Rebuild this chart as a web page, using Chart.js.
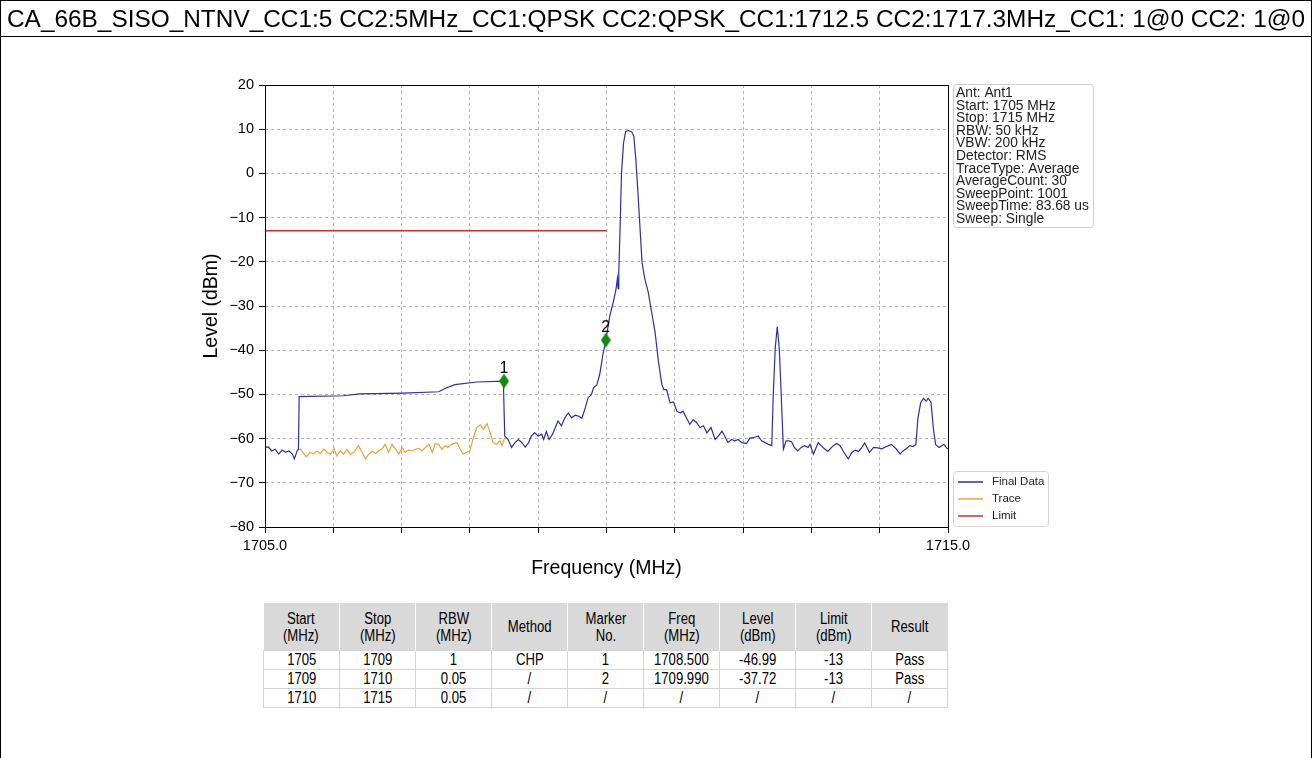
<!DOCTYPE html>
<html>
<head>
<meta charset="utf-8">
<script src="https://cdn.jsdelivr.net/npm/chart.js@4.4.0/dist/chart.umd.min.js"></script>
<style>
  html, body { margin: 0; padding: 0; background: #fff; }
  body { width: 1312px; height: 758px; overflow: hidden; position: relative;
         font-family: 'Liberation Sans', Arial, sans-serif; color: #000; }
  #frame { position: absolute; left: 0; top: 0; width: 1310px; height: 820px; border: 1px solid #000; }
  #title { position: absolute; left: 1px; top: 1px; width: 1310px; height: 36px; border-bottom: 1px solid #000;
           font-size: 24.4px; line-height: 35px; padding-left: 6px; box-sizing: border-box; white-space: nowrap; z-index: 2; }
  #chartBox { position: absolute; left: 0; top: 0; width: 1312px; height: 600px; }
  #tbl { position: absolute; left: 263px; top: 603px; width: 685px; border-collapse: collapse; table-layout: fixed;
         font-family: 'Liberation Sans', Arial, sans-serif; font-size: 16px; }
  #tbl th, #tbl td { text-align: center; padding: 0; overflow: visible; white-space: nowrap; }
  #tbl span { display: inline-block; transform: scaleX(0.82); }
  #tbl th { background: #d9d9d9; font-weight: normal; height: 47px; line-height: 17px; border-left: 1px solid #fff; }
  #tbl th:first-child { border-left: none; }
  #tbl td { height: 18px; line-height: 18px; border: 1px solid #d4d4d4; }
</style>
</head>
<body>
<div id="frame"></div>
<div id="title">CA_66B_SISO_NTNV_CC1:5 CC2:5MHz_CC1:QPSK CC2:QPSK_CC1:1712.5 CC2:1717.3MHz_CC1: 1@0 CC2: 1@0</div>
<div id="chartBox"><canvas id="c"></canvas></div>
<table id="tbl"><thead><tr id="hdr"></tr></thead><tbody id="body"></tbody></table>
<script>
// Final Data trace (MHz / dBm)
const freqFinal = [
  1705.00, 1705.05, 1705.10, 1705.15, 1705.20, 1705.25, 1705.30, 1705.35, 1705.40, 1705.43, 1705.47, 1705.49,
  1705.50, 1706.15, 1706.39, 1707.03, 1707.54, 1707.66, 1707.78, 1708.10, 1708.49,
  1708.51, 1708.56, 1708.61, 1708.66, 1708.71, 1708.76, 1708.81, 1708.86, 1708.90, 1708.95,
  1709.00, 1709.05, 1709.08, 1709.12, 1709.16, 1709.21, 1709.25, 1709.29, 1709.34, 1709.39,
  1709.44, 1709.49, 1709.54, 1709.59, 1709.64, 1709.69, 1709.73, 1709.78, 1709.81, 1709.86,
  1709.90, 1709.95, 1709.99, 1710.05, 1710.10, 1710.14, 1710.16, 1710.17, 1710.18, 1710.20,
  1710.22, 1710.25, 1710.28, 1710.32, 1710.37, 1710.40, 1710.43, 1710.46, 1710.48, 1710.50,
  1710.52, 1710.56, 1710.61, 1710.66, 1710.71, 1710.76, 1710.81,
  1710.84, 1710.88, 1710.93, 1710.98, 1711.03, 1711.08, 1711.12, 1711.17, 1711.22, 1711.27,
  1711.32, 1711.37, 1711.42, 1711.47, 1711.53, 1711.59, 1711.64, 1711.69, 1711.73, 1711.78,
  1711.83, 1711.88, 1711.93, 1711.98, 1712.05, 1712.10, 1712.15, 1712.22, 1712.27, 1712.32,
  1712.37, 1712.42, 1712.44, 1712.47, 1712.50, 1712.53, 1712.56, 1712.59, 1712.63, 1712.67,
  1712.71, 1712.75, 1712.80, 1712.85, 1712.90, 1712.95, 1712.98, 1713.03, 1713.10, 1713.17,
  1713.24, 1713.32, 1713.37, 1713.42, 1713.48, 1713.54, 1713.59, 1713.64, 1713.69, 1713.74,
  1713.78, 1713.85, 1713.91, 1713.97, 1714.03, 1714.10, 1714.17, 1714.24, 1714.30, 1714.34,
  1714.39, 1714.44, 1714.49, 1714.53, 1714.56, 1714.60, 1714.64, 1714.68, 1714.71, 1714.75,
  1714.79, 1714.82, 1714.87, 1714.91, 1714.94, 1714.98, 1715.00
];
const levelFinal = [
  -62.0, -61.9, -62.8, -62.4, -63.5, -62.6, -63.1, -62.8, -63.5, -64.6, -62.8, -62.4,
  -50.5, -50.3, -49.9, -49.7, -49.4, -48.5, -47.8, -47.2, -47.0,
  -59.4, -60.2, -62.0, -60.9, -60.2, -60.9, -61.9, -60.9, -59.4, -58.7,
  -59.4, -59.0, -60.2, -58.4, -60.2, -59.0, -57.5, -56.0, -57.1, -55.3,
  -54.2, -55.3, -54.7, -54.9, -55.4, -53.0, -50.8, -50.0, -48.5, -47.8,
  -45.5, -40.8, -37.7, -32.1, -29.1, -26.1, -23.8, -26.1, -22.3, -11.8,
  0.2, 6.9, 9.5, 9.7, 9.4, 8.4, 3.1, -4.3, -9.6, -14.8,
  -20.1, -23.8, -26.8, -31.3, -35.8, -42.5, -47.8,
  -48.9, -48.9, -51.9, -51.7, -53.8, -54.2, -53.8, -55.3, -56.8, -55.7,
  -56.4, -57.5, -57.1, -58.7, -57.5, -60.2, -59.4, -58.3, -59.4, -60.9,
  -60.2, -60.5, -60.2, -60.9, -61.1, -59.9, -59.8, -59.4, -60.5, -60.9,
  -61.3, -61.6, -50.8, -39.6, -34.7, -39.6, -50.8, -62.4, -60.5, -60.5,
  -60.7, -62.0, -62.8, -62.0, -61.6, -62.0, -61.3, -63.5, -60.9, -62.0,
  -62.9, -61.6, -61.1, -61.6, -63.2, -64.6, -63.2, -62.6, -62.9, -62.0,
  -61.0, -63.1, -62.0, -62.1, -62.3, -61.8, -61.3, -62.3, -63.5, -62.8,
  -62.3, -61.6, -61.8, -61.3, -55.3, -51.9, -50.9, -51.5, -50.9, -51.7,
  -58.3, -61.4, -62.0, -61.6, -61.3, -62.1, -62.3
];

// Raw trace under the channel-power segment
const freqTrace = [
  1705.49, 1705.52, 1705.57, 1705.61, 1705.66, 1705.71, 1705.76, 1705.81, 1705.86, 1705.91,
  1705.96, 1706.01, 1706.05, 1706.10, 1706.15, 1706.20, 1706.25, 1706.30, 1706.37, 1706.42,
  1706.47, 1706.52, 1706.57, 1706.62, 1706.66, 1706.71, 1706.76, 1706.81, 1706.86, 1706.91,
  1706.96, 1707.01, 1707.05, 1707.10, 1707.15, 1707.20, 1707.25, 1707.30, 1707.35, 1707.40,
  1707.45, 1707.49, 1707.54, 1707.59, 1707.64, 1707.68, 1707.73, 1707.81, 1707.86, 1707.90,
  1707.95, 1708.00, 1708.05, 1708.10, 1708.15, 1708.20, 1708.25, 1708.29, 1708.34, 1708.39,
  1708.44, 1708.47, 1708.51
];
const levelTrace = [
  -62.4, -62.4, -63.5, -64.1, -63.1, -63.5, -62.8, -63.4, -62.4, -63.1,
  -63.6, -62.2, -63.9, -62.8, -63.5, -62.4, -63.6, -63.1, -61.6, -63.1,
  -64.6, -63.5, -62.8, -63.4, -62.8, -62.4, -61.3, -63.1, -61.3, -62.4,
  -63.5, -62.0, -63.1, -62.6, -62.8, -62.4, -62.2, -62.8, -62.0, -61.3,
  -63.1, -61.2, -61.3, -62.4, -61.6, -62.0, -61.3, -60.9, -62.4, -63.5,
  -63.1, -62.8, -59.8, -57.5, -56.9, -57.9, -56.6, -58.3, -60.9, -61.3,
  -60.5, -61.6, -59.8
];

// Limit line
const freqLimit = [1705, 1710];
const levelLimit = [-13, -13];

// Markers
const markerNo = ['1', '2'];
const markerFreq = [1708.500, 1709.990];
const markerLevel = [-46.99, -37.72];

// Axis ticks
const xLabeledTicks = [1705.0, 1715.0];

// Sweep settings box
const infoLines = ['Ant: Ant1', 'Start: 1705 MHz', 'Stop: 1715 MHz', 'RBW: 50 kHz', 'VBW: 200 kHz',
  'Detector: RMS', 'TraceType: Average', 'AverageCount: 30', 'SweepPoint: 1001',
  'SweepTime: 83.68 us', 'Sweep: Single'];

// Result table
const tblHeader = ['Start<br>(MHz)', 'Stop<br>(MHz)', 'RBW<br>(MHz)', 'Method', 'Marker<br>No.',
  'Freq<br>(MHz)', 'Level<br>(dBm)', 'Limit<br>(dBm)', 'Result'];
const segStart = ['1705', '1709', '1710'];
const segStop = ['1709', '1710', '1715'];
const segRbw = ['1', '0.05', '0.05'];
const segMethod = ['CHP', '/', '/'];
const segLimit = ['-13', '-13', '/'];
const segResult = ['Pass', 'Pass', '/'];

const FONT = "'Liberation Sans', Arial, sans-serif";
const C_FINAL = '#2e2ea0', C_TRACE = '#f0a038', C_LIMIT = '#d22c2c', C_MARK = '#138a13';

// table rows
document.getElementById('hdr').innerHTML = tblHeader.map(h => '<th><span>' + h + '</span></th>').join('');
document.getElementById('body').innerHTML = segStart.map((s, i) => {
  const cells = [s, segStop[i], segRbw[i], segMethod[i],
    i < markerNo.length ? markerNo[i] : '/',
    i < markerFreq.length ? markerFreq[i].toFixed(3) : '/',
    i < markerLevel.length ? markerLevel[i].toFixed(2) : '/',
    segLimit[i], segResult[i]];
  return '<tr>' + cells.map(c => '<td><span>' + c + '</span></td>').join('') + '</tr>';
}).join('');

const pts = (xs, ys) => xs.map((x, i) => ({ x: x, y: ys[i] }));

function diamond(w, h, color) {
  const c = document.createElement('canvas');
  c.width = w; c.height = h;
  const g = c.getContext('2d');
  g.fillStyle = color;
  g.beginPath();
  g.moveTo(w / 2, 0); g.lineTo(w, h / 2); g.lineTo(w / 2, h); g.lineTo(0, h / 2);
  g.closePath(); g.fill();
  return c;
}

function roundRect(ctx, x, y, w, h, r) {
  ctx.beginPath();
  ctx.moveTo(x + r, y); ctx.lineTo(x + w - r, y); ctx.quadraticCurveTo(x + w, y, x + w, y + r);
  ctx.lineTo(x + w, y + h - r); ctx.quadraticCurveTo(x + w, y + h, x + w - r, y + h);
  ctx.lineTo(x + r, y + h); ctx.quadraticCurveTo(x, y + h, x, y + h - r);
  ctx.lineTo(x, y + r); ctx.quadraticCurveTo(x, y, x + r, y);
  ctx.closePath();
}

// axes frame, marker numbers, settings box and legend
const decor = {
  id: 'decor',
  afterDatasetsDraw(chart) {
    const { ctx, chartArea: a } = chart;
    ctx.save();
    const mk = chart.getDatasetMeta(0).data;
    ctx.fillStyle = '#000';
    ctx.font = '16px ' + FONT;
    ctx.textAlign = 'center';
    ctx.textBaseline = 'alphabetic';
    mk.forEach((p, i) => ctx.fillText(markerNo[i], p.x, p.y - 8));
    ctx.strokeStyle = '#000';
    ctx.lineWidth = 1;
    ctx.strokeRect(Math.round(a.left) + 0.5, Math.round(a.top) + 0.5,
      Math.round(a.right - a.left), Math.round(a.bottom - a.top));
    ctx.restore();
  },
  afterDraw(chart) {
    const { ctx, chartArea: a } = chart;
    ctx.save();
    // settings box
    const bx = a.right + 5, by = a.top - 1;
    ctx.fillStyle = '#fff';
    ctx.strokeStyle = '#cfcfcf';
    ctx.lineWidth = 1;
    roundRect(ctx, bx + 0.5, by + 0.5, 140, 143, 3);
    ctx.fill(); ctx.stroke();
    ctx.fillStyle = '#222';
    ctx.font = '13.8px ' + FONT;
    ctx.textAlign = 'left';
    ctx.textBaseline = 'alphabetic';
    infoLines.forEach((t, i) => ctx.fillText(t, bx + 3, by + 13 + i * 12.6));
    // legend
    const items = [chart.data.datasets[1], chart.data.datasets[2], chart.data.datasets[3]];
    const lx = a.right + 5, ly = a.bottom - 56;
    ctx.fillStyle = '#fff';
    ctx.strokeStyle = '#d4d4d4';
    roundRect(ctx, lx + 0.5, ly + 0.5, 95, 55, 3);
    ctx.fill(); ctx.stroke();
    ctx.font = '11.5px ' + FONT;
    ctx.textBaseline = 'middle';
    items.forEach((d, i) => {
      const yy = ly + 11 + i * 17;
      ctx.strokeStyle = d.borderColor;
      ctx.lineWidth = 1.5;
      ctx.beginPath(); ctx.moveTo(lx + 5, yy); ctx.lineTo(lx + 30, yy); ctx.stroke();
      ctx.fillStyle = '#222';
      ctx.fillText(d.label, lx + 39, yy);
    });
    ctx.restore();
  }
};

new Chart(document.getElementById('c'), {
  type: 'line',
  data: {
    datasets: [
      { label: 'Markers', data: pts(markerFreq, markerLevel), showLine: false,
        pointStyle: diamond(10, 15, C_MARK), pointRadius: 7, borderWidth: 0, backgroundColor: C_MARK },
      { label: 'Final Data', data: pts(freqFinal, levelFinal), borderColor: C_FINAL, borderWidth: 1.2,
        pointRadius: 0, tension: 0, fill: false },
      { label: 'Trace', data: pts(freqTrace, levelTrace), borderColor: C_TRACE, borderWidth: 1.2,
        pointRadius: 0, tension: 0, fill: false },
      { label: 'Limit', data: pts(freqLimit, levelLimit), borderColor: C_LIMIT, borderWidth: 1.5,
        pointRadius: 0, tension: 0, fill: false }
    ]
  },
  options: {
    animation: false,
    responsive: true,
    maintainAspectRatio: false,
    layout: { padding: { left: 190, top: 85, right: 364, bottom: 16 } },
    plugins: { legend: { display: false }, tooltip: { enabled: false } },
    scales: {
      x: {
        type: 'linear', min: 1705, max: 1715,
        afterFit(s) { s.height = 57; },
        ticks: { stepSize: 1, autoSkip: false, maxRotation: 0, padding: 4, color: '#000',
          font: { family: FONT, size: 14.5 },
          callback: v => xLabeledTicks.includes(v) ? v.toFixed(1) : '' },
        grid: { color: '#b4b4b4', lineWidth: 1, tickLength: 6, tickColor: '#000', tickBorderDash: [] },
        border: { display: false, dash: [3, 3] },
        title: { display: true, text: 'Frequency (MHz)', color: '#000', font: { family: FONT, size: 19.5 },
          padding: { top: 4, bottom: 4 } }
      },
      y: {
        min: -80, max: 20,
        afterFit(s) { s.width = 75; },
        ticks: { stepSize: 10, padding: 5, color: '#000', font: { family: FONT, size: 14.5 },
          callback: v => String(v).replace('-', '\u2212') },
        grid: { color: '#b4b4b4', lineWidth: 1, tickLength: 6, tickColor: '#000', tickBorderDash: [] },
        border: { display: false, dash: [3, 3] },
        title: { display: true, text: 'Level (dBm)', color: '#000', font: { family: FONT, size: 19.5 },
          padding: { top: 10, bottom: 4 } }
      }
    }
  },
  plugins: [decor]
});
</script>
</body>
</html>
